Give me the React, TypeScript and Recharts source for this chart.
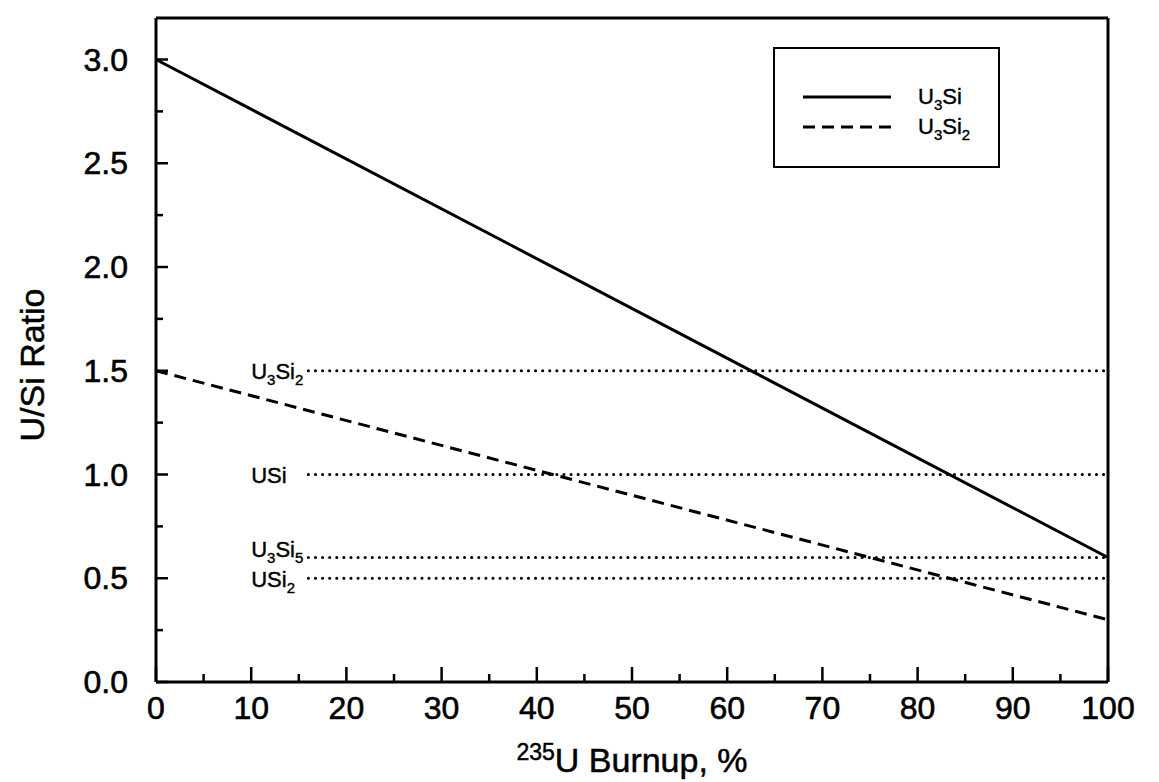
import React from "react";
import { LineChart, Line, XAxis, YAxis, Legend, ReferenceDot } from "recharts";

// burnup (%) vs U/Si ratio
const burnup = [0, 100];
const u3siRatio = [3.0, 0.6];
const u3si2Ratio = [1.5, 0.3];

// reference compositions (horizontal dotted lines)
const phaseLabels = ["U3Si2", "USi", "U3Si5", "USi2"];
const phaseRatios = [1.5, 1.0, 0.6, 0.5];
const phaseRange = [16, 100];
const phaseLabelAt = 10;

const xTicks = [0, 5, 10, 15, 20, 25, 30, 35, 40, 45, 50, 55, 60, 65, 70, 75, 80, 85, 90, 95, 100];
const yTicks = [0, 0.25, 0.5, 0.75, 1.0, 1.25, 1.5, 1.75, 2.0, 2.25, 2.5, 2.75, 3.0];

const FONT = "'Liberation Sans', Arial, sans-serif";
const INK = "#000";
// baseline shift of each phase label relative to its line
const labelShift: Record<string, number> = { U3Si2: 8, USi: 8, U3Si5: -1, USi2: 9 };

const u3siData = burnup.map((b, i) => ({ x: b, y: u3siRatio[i] }));
const u3si2Data = burnup.map((b, i) => ({ x: b, y: u3si2Ratio[i] }));

const isMajorX = (v: number) => v % 10 === 0;
const isMajorY = (v: number) => Math.abs(v * 2 - Math.round(v * 2)) < 1e-6;

// splits "U3Si2" into base text and subscript digits
const Formula = ({ name, size }: { name: string; size: number }) => {
  const parts = name.split(/(\d+)/).filter(Boolean);
  const sub = Math.round(size * 0.66);
  const drop = size * 0.28;
  let lowered = false;
  return (
    <>
      {parts.map((p, i) => {
        const digit = /^\d+$/.test(p);
        let dy = 0;
        if (digit && !lowered) { dy = drop; lowered = true; }
        else if (!digit && lowered) { dy = -drop; lowered = false; }
        return (
          <tspan key={i} dy={dy} fontSize={digit ? sub : size}>{p}</tspan>
        );
      })}
    </>
  );
};

const BottomTick = (props: any) => {
  const { x, y, payload } = props;
  const major = isMajorX(payload.value);
  return (
    <g>
      <line x1={x} x2={x} y1={y} y2={y - (major ? 15 : 8)} stroke={INK} strokeWidth={2.5} />
      {major && (
        <text x={x} y={y + 37} textAnchor="middle" fontSize={32} fontFamily={FONT} fill={INK} stroke={INK} strokeWidth={0.6}>
          {payload.value}
        </text>
      )}
    </g>
  );
};

const TopTick = (props: any) => {
  const { x, y, payload } = props;
  const major = isMajorX(payload.value);
  return <line x1={x} x2={x} y1={y} y2={y + (major ? 15 : 9)} stroke={INK} strokeWidth={2.5} />;
};

const LeftTick = (props: any) => {
  const { x, y, payload } = props;
  const major = isMajorY(payload.value);
  return (
    <g>
      <line x1={x} x2={x + (major ? 12 : 7)} y1={y} y2={y} stroke={INK} strokeWidth={2.5} />
      {major && (
        <text x={x - 28} y={y + 11} textAnchor="end" fontSize={32} fontFamily={FONT} fill={INK} stroke={INK} strokeWidth={0.6}>
          {payload.value.toFixed(1)}
        </text>
      )}
    </g>
  );
};

const RightTick = (props: any) => {
  const { x, y, payload } = props;
  const major = isMajorY(payload.value);
  return <line x1={x} x2={x - (major ? 12 : 7)} y1={y} y2={y} stroke={INK} strokeWidth={2.5} />;
};

const XTitle = ({ viewBox }: any) => (
  <text x={viewBox.x + viewBox.width / 2} y={viewBox.y + 90} textAnchor="middle" fontSize={34} fontFamily={FONT} fill={INK} stroke={INK} strokeWidth={0.5}>
    <tspan fontSize={23} dy={-12}>235</tspan>
    <tspan dy={12}>U Burnup, %</tspan>
  </text>
);

const YTitle = ({ viewBox }: any) => {
  const cx = viewBox.x - 44;
  const cy = viewBox.y + viewBox.height / 2 + 15;
  return (
    <text x={cx} y={cy} transform={`rotate(-90 ${cx} ${cy})`} textAnchor="middle" dominantBaseline="central" fontSize={34} fontFamily={FONT} fill={INK} stroke={INK} strokeWidth={0.5}>
      U/Si Ratio
    </text>
  );
};

const PhaseLabel = (name: string) => ({ viewBox }: any) => (
  <text x={viewBox.x} y={viewBox.y + labelShift[name]} fontSize={22} fontFamily={FONT} fill={INK} stroke={INK} strokeWidth={0.4}>
    <Formula name={name} size={22} />
  </text>
);

const legendItems = [
  { name: "U3Si", dash: undefined as string | undefined },
  { name: "U3Si2", dash: "12 7" },
];

const LegendBox = () => (
  <div style={{ width: 227, height: 121, border: `2px solid ${INK}`, boxSizing: "border-box", position: "relative", background: "#fff" }}>
    {legendItems.map((item, i) => (
      <svg key={item.name} width={225} height={34} style={{ position: "absolute", left: 0, top: 33 + i * 30 }}>
        <line x1={28} x2={116} y1={15} y2={15} stroke={INK} strokeWidth={3} strokeDasharray={item.dash} />
        <text x={143} y={22} fontSize={22} fontFamily={FONT} fill={INK} stroke={INK} strokeWidth={0.4}>
          <Formula name={item.name} size={22} />
        </text>
      </svg>
    ))}
  </div>
);

export default function App() {
  return (
    <div style={{ width: 1151, height: 774, background: "#fff" }}>
      <LineChart width={1151} height={774} margin={{ top: 9, right: 50, bottom: 40, left: 68 }}>
        <XAxis
          xAxisId="bottom"
          type="number"
          dataKey="x"
          domain={[0, 100]}
          ticks={xTicks}
          interval={0}
          height={60}
          tickSize={0}
          tickMargin={0}
          tickLine={false}
          axisLine={{ stroke: INK, strokeWidth: 3 }}
          tick={<BottomTick />}
          label={<XTitle />}
        />
        <XAxis
          xAxisId="top"
          orientation="top"
          type="number"
          dataKey="x"
          domain={[0, 100]}
          ticks={xTicks}
          interval={0}
          height={1}
          tickSize={0}
          tickMargin={0}
          tickLine={false}
          axisLine={{ stroke: INK, strokeWidth: 3 }}
          tick={<TopTick />}
        />
        <YAxis
          yAxisId="left"
          type="number"
          domain={[0, 3.2]}
          ticks={yTicks}
          interval={0}
          width={80}
          tickSize={0}
          tickMargin={0}
          tickLine={false}
          axisLine={{ stroke: INK, strokeWidth: 3 }}
          tick={<LeftTick />}
          label={<YTitle />}
        />
        <YAxis
          yAxisId="right"
          orientation="right"
          type="number"
          domain={[0, 3.2]}
          ticks={yTicks}
          interval={0}
          width={1}
          tickSize={0}
          tickMargin={0}
          tickLine={false}
          axisLine={{ stroke: INK, strokeWidth: 3 }}
          tick={<RightTick />}
        />
        <Legend
          layout="vertical"
          align="center"
          verticalAlign="middle"
          content={<LegendBox />}
          wrapperStyle={{ left: 765, top: 39, width: 227, height: 121 }}
        />
        {phaseRatios.map((r, i) => (
          <Line
            key={phaseLabels[i]}
            xAxisId="bottom"
            yAxisId="left"
            data={phaseRange.map((x) => ({ x, y: r }))}
            dataKey="y"
            type="linear"
            stroke={INK}
            strokeWidth={3}
            strokeDasharray="0.1 7"
            strokeLinecap="round"
            dot={false}
            activeDot={false}
            legendType="none"
            isAnimationActive={false}
          />
        ))}
        {phaseRatios.map((r, i) => (
          <ReferenceDot
            key={`lbl-${phaseLabels[i]}`}
            xAxisId="bottom"
            yAxisId="left"
            x={phaseLabelAt}
            y={r}
            r={0}
            fill="none"
            stroke="none"
            label={PhaseLabel(phaseLabels[i])}
          />
        ))}
        <Line
          xAxisId="bottom"
          yAxisId="left"
          data={u3siData}
          dataKey="y"
          name="U3Si"
          type="linear"
          stroke={INK}
          strokeWidth={3}
          dot={false}
          activeDot={false}
          isAnimationActive={false}
        />
        <Line
          xAxisId="bottom"
          yAxisId="left"
          data={u3si2Data}
          dataKey="y"
          name="U3Si2"
          type="linear"
          stroke={INK}
          strokeWidth={3}
          strokeDasharray="12 7"
          dot={false}
          activeDot={false}
          isAnimationActive={false}
        />
      </LineChart>
    </div>
  );
}
